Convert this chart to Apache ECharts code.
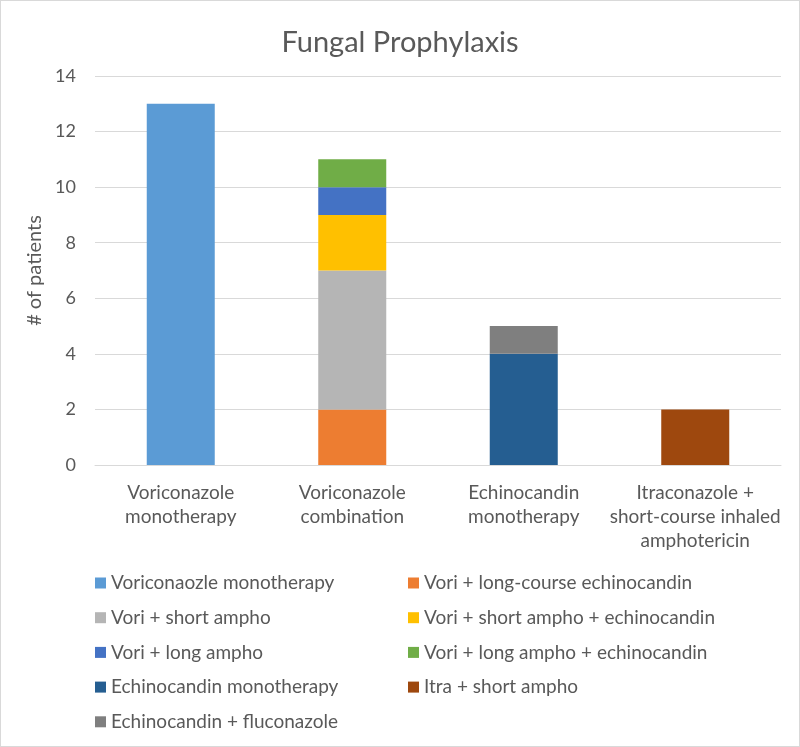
<!DOCTYPE html>
<html>
<head>
<meta charset="utf-8">
<script src="https://cdn.jsdelivr.net/npm/echarts@6/dist/echarts.min.js"></script>
<style>
html,body{margin:0;padding:0;background:#fff;}
#wrap{position:absolute;left:0;top:0;width:798px;height:745px;border:1px solid #D9D9D9;}
#chart{width:798px;height:745px;}
</style>
</head>
<body>
<div id="wrap"><div id="chart"></div></div>
<script>
const categories = ['Voriconazole\nmonotherapy', 'Voriconazole\ncombination', 'Echinocandin\nmonotherapy', 'Itraconazole +\nshort-course inhaled\namphotericin'];
const seriesNames = ['Voriconaozle monotherapy', 'Vori + long-course echinocandin', 'Vori + short ampho', 'Vori + short ampho + echinocandin', 'Vori + long ampho', 'Vori + long ampho + echinocandin', 'Echinocandin monotherapy', 'Itra + short ampho', 'Echinocandin + fluconazole'];
const voriMono = [13, 0, 0, 0];
const voriLongEchino = [0, 2, 0, 0];
const voriShortAmpho = [0, 5, 0, 0];
const voriShortAmphoEchino = [0, 2, 0, 0];
const voriLongAmpho = [0, 1, 0, 0];
const voriLongAmphoEchino = [0, 1, 0, 0];
const echinoMono = [0, 0, 4, 0];
const itraShortAmpho = [0, 0, 0, 2];
const echinoFluco = [0, 0, 1, 0];
const yTicks = [0, 2, 4, 6, 8, 10, 12, 14];

const seriesData = [voriMono, voriLongEchino, voriShortAmpho, voriShortAmphoEchino, voriLongAmpho, voriLongAmphoEchino, echinoMono, itraShortAmpho, echinoFluco];
const colors = ['#5B9BD5', '#ED7D31', '#B5B5B5', '#FFC000', '#4472C4', '#70AD47', '#255E91', '#9E480E', '#7F7F7F'];
const font = 'Lato, "Open Sans", sans-serif';
const textColor = '#595959';

const chart = echarts.init(document.getElementById('chart'));
const leftCol = [0, 2, 4, 6, 8].map(i => seriesNames[i]);
const rightCol = [1, 3, 5, 7].map(i => seriesNames[i]);
const legendCommon = {
  orient: 'vertical', icon: 'rect', itemWidth: 11, itemHeight: 11, itemGap: 14.7,
  textStyle: { color: textColor, fontSize: 19, fontFamily: font, lineHeight: 20 },
  selectedMode: false, padding: 0
};
chart.setOption({
  animation: false,
  color: colors,
  title: {
    text: 'Fungal Prophylaxis', left: 'center', top: 22,
    textStyle: { color: textColor, fontSize: 29, fontWeight: 'normal', fontFamily: font }
  },
  legend: [
    Object.assign({ data: leftCol, left: 94, top: 572 }, legendCommon),
    Object.assign({ data: rightCol, left: 407, top: 572 }, legendCommon)
  ],
  grid: { left: 94, right: 18, top: 75, bottom: 281 },
  xAxis: {
    type: 'category', data: categories,
    axisLine: { lineStyle: { color: '#D9D9D9' } },
    axisTick: { show: false },
    axisLabel: { color: textColor, fontSize: 19, fontFamily: font, lineHeight: 24, margin: 16, interval: 0 }
  },
  yAxis: {
    type: 'value', min: 0, max: 14, interval: 2,
    name: '# of patients', nameLocation: 'middle', nameGap: 49,
    nameTextStyle: { color: textColor, fontSize: 20, fontFamily: font },
    axisLine: { show: false }, axisTick: { show: false },
    axisLabel: { color: textColor, fontSize: 18, fontFamily: font, margin: 19,
      formatter: v => yTicks.includes(v) ? String(v) : '' },
    splitLine: { lineStyle: { color: '#D9D9D9' } }
  },
  series: seriesNames.map((n, i) => ({
    name: n, type: 'bar', stack: 'total', data: seriesData[i],
    barWidth: 68,
    itemStyle: { color: colors[i] }
  }))
});
</script>
</body>
</html>
